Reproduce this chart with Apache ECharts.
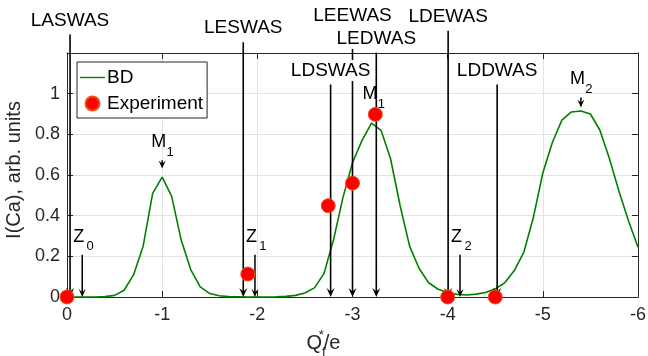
<!DOCTYPE html>
<html>
<head>
<meta charset="utf-8">
<script src="https://cdn.jsdelivr.net/npm/echarts@6/dist/echarts.min.js"></script>
<style>
  html, body { margin: 0; padding: 0; background: #fff; }
  #chart { width: 648px; height: 356px; }
</style>
</head>
<body>
<div id="chart"></div>
<script>
const FONT = "'Liberation Sans', Arial, sans-serif";
const INK = "#262626";

// BD curve (green), every 0.1
const bdX = [
  0, -0.1, -0.2, -0.3, -0.4, -0.5, -0.6, -0.7, -0.8, -0.9,
  -1, -1.1, -1.2, -1.3, -1.4, -1.5, -1.6, -1.7, -1.8, -1.9,
  -2, -2.1, -2.2, -2.3, -2.4, -2.5, -2.6, -2.7, -2.8, -2.9,
  -3, -3.1, -3.2, -3.3, -3.4, -3.5, -3.6, -3.7, -3.8, -3.9,
  -4, -4.1, -4.2, -4.3, -4.4, -4.5, -4.6, -4.7, -4.8, -4.9,
  -5, -5.1, -5.2, -5.3, -5.4, -5.5, -5.6, -5.7, -5.8, -5.9, -6,
];
const bdY = [
  0, 0, 0, 0, 0.002, 0.008, 0.033, 0.11, 0.25, 0.51,
  0.59, 0.495, 0.28, 0.135, 0.05, 0.017, 0.006, 0.002, 0.001, 0,
  0, 0, 0.001, 0.003, 0.008, 0.02, 0.045, 0.115, 0.28, 0.49,
  0.66, 0.77, 0.855, 0.82, 0.68, 0.45, 0.25, 0.14, 0.07, 0.038,
  0.022, 0.013, 0.01, 0.014, 0.022, 0.04, 0.07, 0.13, 0.22, 0.39,
  0.61, 0.76, 0.87, 0.91, 0.915, 0.9, 0.82, 0.68, 0.52, 0.375, 0.245,
];

// experiment points (red)
const expX = [0, -1.9, -2.745, -3.0, -3.24, -4.0, -4.5];
const expY = [0, 0.113, 0.449, 0.56, 0.898, 0, 0];

// long labelled arrows down to the axis
const tagNames = ["LASWAS", "LESWAS", "LEEWAS", "LEDWAS", "LDSWAS", "LDEWAS", "LDDWAS"];
const tagX     = [-0.032, -1.852, -3.0, -3.25, -2.77, -4.005, -4.52];
const tagTop   = [1.291, 1.253, 1.315, 1.202, 1.045, 1.31, 1.045];

// short arrows: Z_n and M_n markers
const markMain = ["Z", "Z", "Z", "M", "M", "M"];
const markSub  = ["0", "1", "2", "1", "1", "2"];
const markX    = [-0.16, -1.975, -4.13, -1, -3.22, -5.4];
const markTip  = [0, 0, 0, 0.632, 0.868, 0.932];
const markTop  = [0.208, 0.208, 0.208, 0.672, 0.908, 0.981];

const yTicks = [0, 0.2, 0.4, 0.6, 0.8, 1];

function arrowHead(x, y, w, h) {
  return {
    type: "polygon",
    shape: { points: [[x, y], [x - w, y - h], [x, y - h * 0.6], [x + w, y - h]] },
    style: { fill: "#000" },
  };
}

function renderTag(params, api) {
  const i = params.dataIndex;
  const top = api.coord([api.value(0), api.value(1)]);
  const tip = api.coord([api.value(0), 0]);
  return {
    type: "group",
    children: [
      { type: "line", shape: { x1: top[0], y1: top[1], x2: tip[0], y2: tip[1] - 5 },
        style: { stroke: "#000", lineWidth: 1.6 } },
      arrowHead(tip[0], tip[1], 4, 9),
      { type: "text", z2: 10,
        style: { text: tagNames[i], x: top[0], y: top[1] - 14,
          align: "center", verticalAlign: "middle", textAlign: "center", textVerticalAlign: "middle",
          font: `19px ${FONT}`, fill: "#000", backgroundColor: "#fff", padding: [1, 1] } },
    ],
  };
}

function renderMark(params, api) {
  const i = params.dataIndex;
  const top = api.coord([api.value(0), api.value(1)]);
  const tip = api.coord([api.value(0), api.value(2)]);
  return {
    type: "group",
    children: [
      { type: "line", shape: { x1: top[0], y1: top[1], x2: tip[0], y2: tip[1] - 4 },
        style: { stroke: "#000", lineWidth: 1.5 } },
      arrowHead(tip[0], tip[1], 3.5, 8),
      { type: "text",
        style: { text: markMain[i], x: top[0] - 3.5, y: top[1] - 18,
          align: "center", verticalAlign: "middle", textAlign: "center", textVerticalAlign: "middle",
          font: `18px ${FONT}`, fill: "#000" } },
      { type: "text",
        style: { text: markSub[i], x: top[0] + 8, y: top[1] - 8,
          align: "center", verticalAlign: "middle", textAlign: "center", textVerticalAlign: "middle",
          font: `13px ${FONT}`, fill: "#000" } },
    ],
  };
}

const chart = echarts.init(document.getElementById("chart"));

chart.setOption({
  animation: false,
  backgroundColor: "#fff",
  textStyle: { fontFamily: FONT },
  grid: { left: 67, right: 10, top: 53, bottom: 59, containLabel: false, outerBoundsMode: "none" },
  legend: {
    left: 77, top: 62,
    orient: "vertical",
    data: [
      { name: "BD", icon: "path://M0,0 M0,6.3 L25,6.3 L25,7.7 L0,7.7 Z M25,14" },
      { name: "Experiment" },
    ],
    backgroundColor: "#fff",
    borderColor: INK, borderWidth: 1, borderRadius: 0,
    padding: [6, 4, 5, 3],
    itemGap: 7, itemWidth: 25, itemHeight: 14,
    textStyle: { fontFamily: FONT, fontSize: 19, color: "#000", padding: [0, 0, 0, -3] },
  },
  xAxis: [{
    type: "value", inverse: true, min: -6, max: 0, interval: 1,
    name: "{a|Q}{b|f}{c|*}{a|/e}",
    nameLocation: "middle", nameGap: 27,
    nameTextStyle: {
      color: INK,
      padding: [0, 58, 0, 0],
      rich: {
        a: { fontFamily: FONT, fontSize: 20, color: INK, lineHeight: 30, verticalAlign: "middle" },
        b: { fontFamily: FONT, fontSize: 13, color: INK, lineHeight: 13, verticalAlign: "bottom" },
        c: { fontFamily: FONT, fontSize: 13, color: INK, lineHeight: 13, verticalAlign: "top", padding: [0, 0, 0, -7] },
      },
    },
    axisLine: { onZero: false, lineStyle: { color: INK, width: 1 } },
    axisTick: { inside: true, length: 6, lineStyle: { color: INK } },
    axisLabel: { color: INK, fontSize: 18, fontFamily: FONT, margin: 9 },
    splitLine: { show: true, lineStyle: { color: "#e3e3e3", width: 1 } },
  }, {
    type: "value", inverse: true, min: -6, max: 0, interval: 1, position: "top",
    axisLine: { onZero: false, lineStyle: { color: INK, width: 1 } },
    axisTick: { inside: true, length: 6, lineStyle: { color: INK } },
    axisLabel: { show: false },
    splitLine: { show: false },
  }],
  yAxis: [{
    type: "value", min: 0, max: 1.2, interval: 0.2,
    name: "I(Ca), arb. units",
    nameLocation: "middle", nameGap: 42,
    nameTextStyle: { color: INK, fontSize: 20, fontFamily: FONT, padding: [0, 0, 0, 10] },
    axisLine: { show: true, onZero: false, lineStyle: { color: INK, width: 1 } },
    axisTick: { show: true, inside: true, length: 6, lineStyle: { color: INK } },
    axisLabel: {
      color: INK, fontSize: 18, fontFamily: FONT, margin: 7,
      formatter: v => {
        const t = yTicks.find(k => Math.abs(k - v) < 1e-6);
        return t === undefined ? "" : String(t);
      },
    },
    splitLine: { show: true, lineStyle: { color: "#e3e3e3", width: 1 } },
  }, {
    type: "value", min: 0, max: 1.2, interval: 0.2, position: "right",
    axisLine: { show: true, onZero: false, lineStyle: { color: INK, width: 1 } },
    axisTick: { show: true, inside: true, length: 6, lineStyle: { color: INK } },
    axisLabel: { show: false },
    splitLine: { show: false },
  }],
  series: [
    {
      name: "BD", type: "line", z: 2,
      symbol: "none", smooth: false,
      lineStyle: { color: "#008000", width: 1.6 },
      itemStyle: { color: "#008000" },
      data: bdX.map((x, i) => [x, bdY[i]]),
    },
    {
      name: "tags", type: "custom", z: 3, clip: false, silent: true,
      renderItem: renderTag,
      data: tagX.map((x, i) => [x, tagTop[i]]),
    },
    {
      name: "marks", type: "custom", z: 3, clip: false, silent: true,
      renderItem: renderMark,
      data: markX.map((x, i) => [x, markTop[i], markTip[i]]),
    },
    {
      name: "Experiment", type: "scatter", z: 4, clip: false,
      symbol: "circle", symbolSize: 14,
      itemStyle: { color: "#ff0000", borderColor: "#e8541a", borderWidth: 1, opacity: 1 },
      data: expX.map((x, i) => [x, expY[i]]),
    },
  ],
});
</script>
</body>
</html>
